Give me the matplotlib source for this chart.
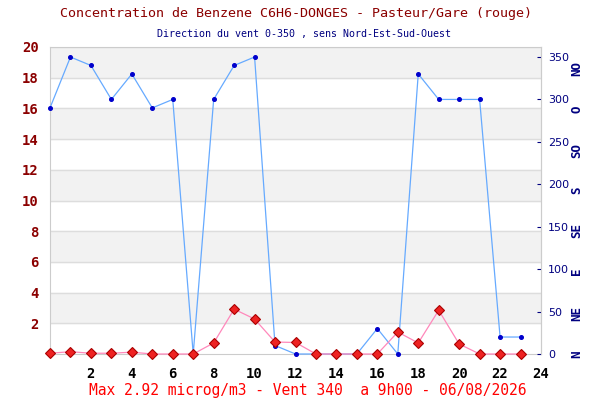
import matplotlib
matplotlib.use("Agg")
import matplotlib.pyplot as plt

heures = list(range(24))
benzene = [0.05, 0.15, 0.05, 0.05, 0.12, 0.0, 0.0, 0.0, 0.72, 2.92, 2.28, 0.78,
           0.75, 0.0, 0.0, 0.0, 0.0, 1.43, 0.72, 2.85, 0.65, 0.0, 0.0, 0.0]
vent = [290, 350, 340, 300, 330, 290, 300, 0, 300, 340, 350, 10,
        0, 0, 0, 0, 30, 0, 330, 300, 300, 300, 20, 20]
directions = ["N", "NE", "E", "SE", "S", "SO", "O", "NO"]
pos_directions = [0, 48, 97, 145, 193, 240, 288, 336]

mono = "DejaVu Sans Mono"
rouge_fonce = "#8b0000"
bleu_fonce = "#000080"

fig = plt.figure(figsize=(6, 4), dpi=100)
ax = fig.add_axes([50 / 600, 46 / 400, 491 / 600, 307 / 400])

# bandes grises alternées
for y0 in range(2, 20, 4):
    ax.axhspan(y0, y0 + 2, color="#f2f2f2", zorder=0)
for y in range(2, 21, 2):
    ax.axhline(y, color="#dddddd", lw=1, zorder=1)

ax.set_xlim(0, 24)
ax.set_ylim(0, 20)
ax.set_xticks(range(2, 25, 2))
ax.set_yticks(range(2, 21, 2))
ax.tick_params(axis="x", length=0, pad=9)
ax.tick_params(axis="y", length=0, pad=8)
for lab in ax.get_xticklabels():
    lab.set_fontfamily(mono)
    lab.set_fontweight("bold")
    lab.set_fontsize(10)
for lab in ax.get_yticklabels():
    lab.set_fontfamily(mono)
    lab.set_fontweight("bold")
    lab.set_fontsize(10)
    lab.set_color(rouge_fonce)
for s in ax.spines.values():
    s.set_color("#cccccc")

# vent (axe de droite)
ax2 = ax.twinx()
ax2.set_ylim(0, 307 / 297 * 350)
ax2.set_yticks(range(0, 351, 50))
ax2.tick_params(axis="y", colors=bleu_fonce, labelsize=8, length=3,
                direction="in", pad=5)
ax2.spines["right"].set_color("#cccccc")
for s in ["top", "left", "bottom"]:
    ax2.spines[s].set_visible(False)
ax2.plot(heures, vent, color="#66aaff", lw=0.9, marker="o", markersize=2.6,
         markerfacecolor="#0000cc", markeredgecolor="#0000cc", zorder=3, clip_on=False)
for d, p in zip(directions, pos_directions):
    ax2.text(1.073, p, d, transform=ax2.get_yaxis_transform(), rotation=90,
             ha="center", va="center", color=bleu_fonce, fontsize=9,
             fontweight="bold", fontfamily=mono)

# benzene au-dessus
ax3 = ax.twinx()
ax3.set_ylim(0, 20)
ax3.axis("off")
ax3.plot(heures, benzene, color="#ff88bb", lw=0.9, marker="D", markersize=5,
         markerfacecolor="#ee2222", markeredgecolor="#aa0000", markeredgewidth=0.8,
         zorder=4, clip_on=False)

fig.text(0.493, 0.965, "Concentration de Benzene C6H6-DONGES - Pasteur/Gare (rouge)",
         ha="center", va="center", color=rouge_fonce, fontsize=9.6, fontfamily=mono)
fig.text(0.506, 0.915, "Direction du vent 0-350 , sens Nord-Est-Sud-Ouest",
         ha="center", va="center", color=bleu_fonce, fontsize=7.2, fontfamily=mono)
fig.text(0.513, 0.005, "Max 2.92 microg/m3 - Vent 340  a 9h00 - 06/08/2026",
         ha="center", va="bottom", color="#ff0000", fontsize=10.5, fontfamily=mono)

fig.savefig("out.png", dpi=100)
